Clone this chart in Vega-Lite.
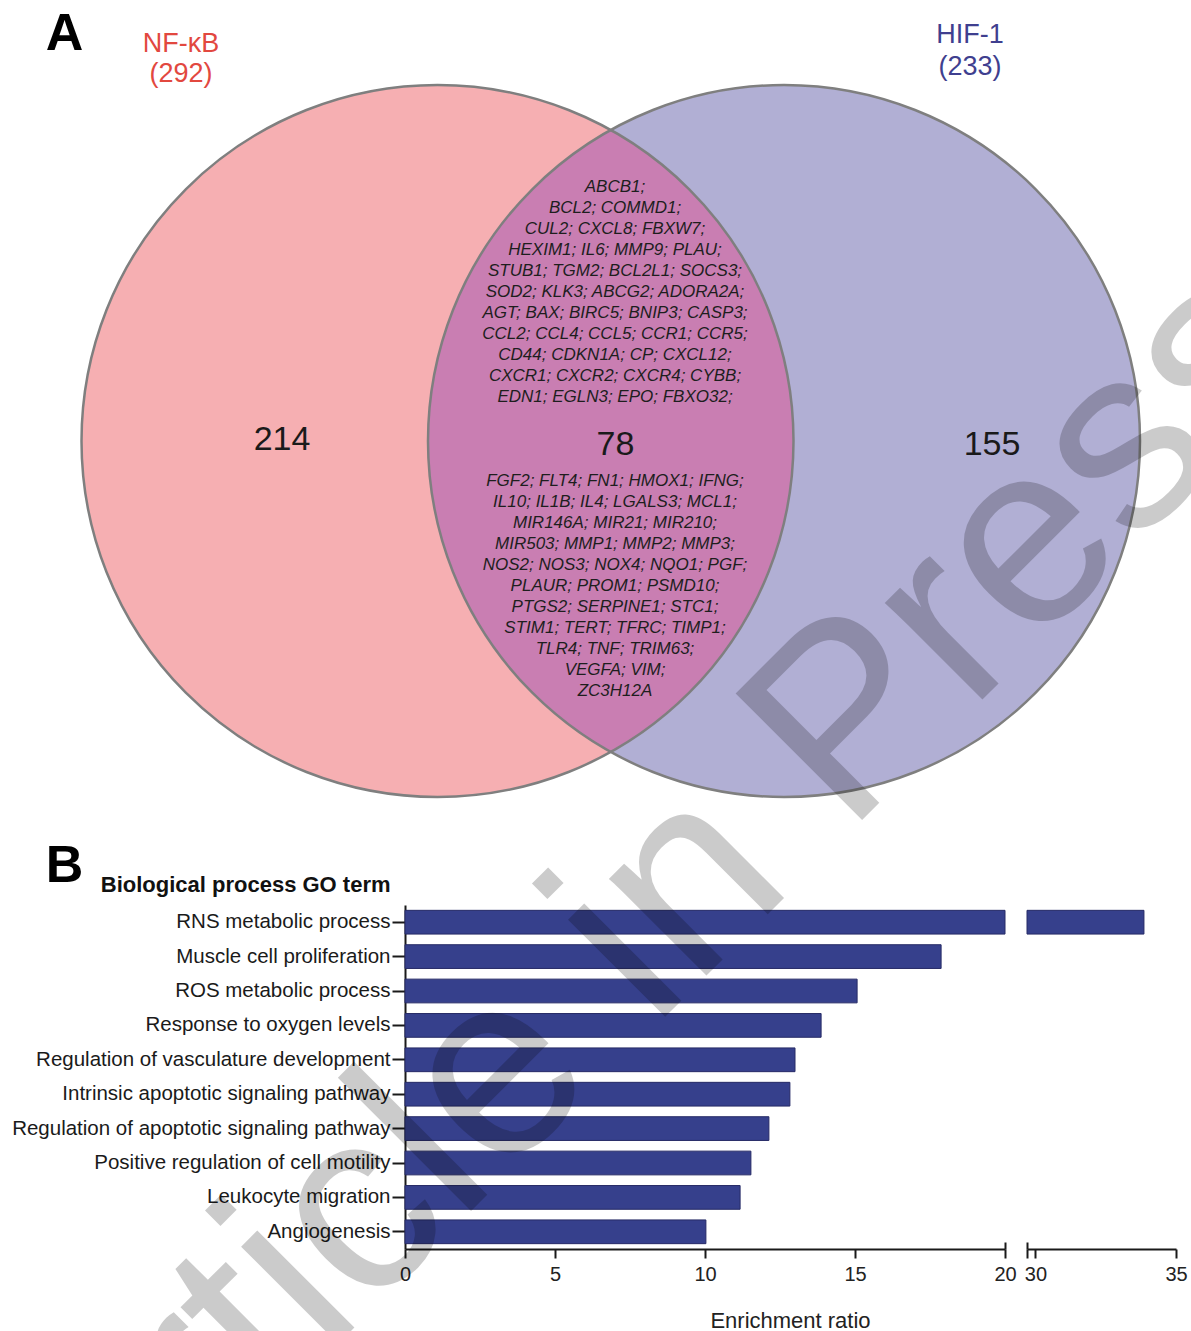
{
  "$schema": "https://vega.github.io/schema/vega-lite/v6.json",
  "width": 1191,
  "height": 1331,
  "autosize": {"type": "none"},
  "padding": 0,
  "background": "white",
  "config": {
    "view": {"stroke": null},
    "font": "Liberation Sans",
    "axis": {"grid": false}
  },
  "datasets": {
    "go": [
      {"term": "RNS metabolic process", "ratio": 33.86},
      {"term": "Muscle cell proliferation", "ratio": 17.87},
      {"term": "ROS metabolic process", "ratio": 15.07},
      {"term": "Response to oxygen levels", "ratio": 13.87},
      {"term": "Regulation of vasculature development", "ratio": 13.0},
      {"term": "Intrinsic apoptotic signaling pathway", "ratio": 12.83},
      {"term": "Regulation of apoptotic signaling pathway", "ratio": 12.13},
      {"term": "Positive regulation of cell motility", "ratio": 11.53},
      {"term": "Leukocyte migration", "ratio": 11.17},
      {"term": "Angiogenesis", "ratio": 10.03}
    ],
    "sets": [
      {"set": "NF-κB", "total": 292, "unique": 214},
      {"set": "HIF-1", "total": 233, "unique": 155}
    ],
    "shared": [
      {
        "count": 78,
        "genesTop": [
          "ABCB1;",
          "BCL2; COMMD1;",
          "CUL2; CXCL8; FBXW7;",
          "HEXIM1; IL6; MMP9; PLAU;",
          "STUB1; TGM2; BCL2L1; SOCS3;",
          "SOD2; KLK3; ABCG2; ADORA2A;",
          "AGT; BAX; BIRC5; BNIP3; CASP3;",
          "CCL2; CCL4; CCL5; CCR1; CCR5;",
          "CD44; CDKN1A; CP; CXCL12;",
          "CXCR1; CXCR2; CXCR4; CYBB;",
          "EDN1; EGLN3; EPO; FBXO32;"
        ],
        "genesBottom": [
          "FGF2; FLT4; FN1; HMOX1; IFNG;",
          "IL10; IL1B; IL4; LGALS3; MCL1;",
          "MIR146A; MIR21; MIR210;",
          "MIR503; MMP1; MMP2; MMP3;",
          "NOS2; NOS3; NOX4; NQO1; PGF;",
          "PLAUR; PROM1; PSMD10;",
          "PTGS2; SERPINE1; STC1;",
          "STIM1; TERT; TFRC; TIMP1;",
          "TLR4; TNF; TRIM63;",
          "VEGFA; VIM;",
          "ZC3H12A"
        ]
      }
    ],
    "panels": [{"panel": "A"}, {"panel": "B"}],
    "stamp": [{"stamp": "Article in Press"}]
  },
  "layer": [
    {
      "data": {"name": "go"},
      "layer": [
        {
          "mark": {"type": "bar", "fill": "#36408C", "stroke": "#262A66", "strokeWidth": 1},
          "encoding": {
            "y": {
              "field": "term", "type": "nominal", "sort": null,
              "scale": {"range": [905, 1249], "paddingInner": 0.31, "paddingOuter": 0.155},
              "axis": {
                "orient": "left", "offset": -405,
                "tickSize": 13, "tickWidth": 2, "tickColor": "#1a1a1a",
                "domainWidth": 2, "domainColor": "#1a1a1a",
                "labelFontSize": 20.5, "labelPadding": 2, "labelColor": "#1a1a1a", "labelLimit": 600,
                "title": "Biological process GO term", "titleAngle": 0,
                "titleFontSize": 22, "titleFontWeight": "bold", "titleColor": "#111111",
                "titleX": -15, "titleY": 884, "titleAlign": "right", "titleBaseline": "middle"
              }
            },
            "x": {
              "field": "ratio", "type": "quantitative",
              "scale": {"domain": [0, 20], "range": [405, 1005], "clamp": true, "nice": false},
              "axis": {
                "orient": "bottom", "offset": -82, "values": [0, 5, 10, 15, 20],
                "tickSize": 9, "tickWidth": 2, "tickColor": "#1a1a1a",
                "domainWidth": 2, "domainColor": "#1a1a1a",
                "labelFontSize": 20, "labelColor": "#222222", "labelPadding": 6,
                "labelFlush": false, "labelOverlap": false,
                "title": "Enrichment ratio", "titleFontSize": 22, "titleFontWeight": "normal",
                "titleColor": "#222222", "titleX": 790, "titleY": 71,
                "titleAlign": "center", "titleBaseline": "middle"
              }
            }
          }
        },
        {
          "transform": [{"filter": "datum.ratio > 29.7"}],
          "mark": {"type": "bar", "fill": "#36408C", "stroke": "#262A66", "strokeWidth": 1},
          "encoding": {
            "y": {"field": "term", "type": "nominal", "sort": null},
            "x": {
              "field": "ratio", "type": "quantitative",
              "scale": {"domain": [29.7, 35], "range": [1027, 1176], "clamp": true, "nice": false, "zero": false},
              "axis": {
                "orient": "bottom", "offset": -82, "values": [29.7, 30, 35],
                "labelExpr": "datum.value < 29.9 ? '' : datum.label",
                "tickSize": 9, "tickWidth": 2, "tickColor": "#1a1a1a",
                "domainWidth": 2, "domainColor": "#1a1a1a",
                "labelFontSize": 20, "labelColor": "#222222", "labelPadding": 6,
                "labelFlush": false, "labelOverlap": false, "title": null
              }
            }
          }
        },
        {
          "mark": {"type": "rule", "opacity": 0},
          "encoding": {
            "x": {
              "datum": 20, "type": "quantitative",
              "scale": {"domain": [0, 20], "range": [405, 1005], "clamp": true, "nice": false},
              "axis": {
                "orient": "bottom", "offset": -82, "values": [20],
                "tickSize": -7, "tickWidth": 2, "tickColor": "#1a1a1a",
                "domain": false, "labels": false, "title": null
              }
            }
          }
        },
        {
          "mark": {"type": "rule", "opacity": 0},
          "encoding": {
            "x": {
              "datum": 29.7, "type": "quantitative",
              "scale": {"domain": [29.7, 35], "range": [1027, 1176], "clamp": true, "nice": false, "zero": false},
              "axis": {
                "orient": "bottom", "offset": -82, "values": [29.7],
                "tickSize": -7, "tickWidth": 2, "tickColor": "#1a1a1a",
                "domain": false, "labels": false, "title": null
              }
            }
          }
        }
      ],
      "resolve": {"scale": {"x": "independent"}, "axis": {"x": "independent"}}
    },
    {
      "layer": [
        {
          "data": {"name": "sets"},
          "mark": {"type": "point", "shape": "circle", "filled": true, "size": 506944, "opacity": 1, "strokeWidth": 0},
          "encoding": {
            "x": {"field": "set", "type": "nominal", "scale": {"type": "point", "domain": ["NF-κB", "HIF-1"], "range": [437.5, 784], "padding": 0}, "axis": null},
            "y": {"datum": 441, "type": "quantitative", "scale": {"domain": [1331, 0], "nice": false, "zero": false}, "axis": null},
            "color": {"field": "set", "type": "nominal", "scale": {"domain": ["NF-κB", "HIF-1"], "range": ["#F6AFB2", "#B1AFD4"]}, "legend": null}
          }
        },
        {
          "data": {"name": "shared"},
          "mark": {"type": "point", "shape": "M0,-0.8733A1,1,0,0,1,0,0.8733A1,1,0,0,1,0,-0.8733Z", "filled": true, "size": 506944, "opacity": 1, "strokeWidth": 0, "fill": "#C97EB2"},
          "encoding": {
            "x": {"datum": 610.75, "type": "quantitative", "scale": {"domain": [0, 1191], "nice": false, "zero": false}, "axis": null},
            "y": {"datum": 441, "type": "quantitative", "scale": {"domain": [1331, 0], "nice": false, "zero": false}, "axis": null}
          }
        },
        {
          "data": {"name": "sets"},
          "mark": {"type": "point", "shape": "circle", "filled": false, "size": 506944, "opacity": 1, "stroke": "#7f7f7f", "strokeWidth": 2.5},
          "encoding": {
            "x": {"field": "set", "type": "nominal", "scale": {"type": "point", "domain": ["NF-κB", "HIF-1"], "range": [437.5, 784], "padding": 0}, "axis": null},
            "y": {"datum": 441, "type": "quantitative", "scale": {"domain": [1331, 0], "nice": false, "zero": false}, "axis": null}
          }
        },
        {
          "data": {"name": "sets"},
          "mark": {"type": "text", "fontSize": 27, "align": "center", "baseline": "middle"},
          "encoding": {
            "text": {"field": "set", "type": "nominal"},
            "x": {"field": "set", "type": "nominal", "scale": {"type": "point", "domain": ["NF-κB", "HIF-1"], "range": [181, 970], "padding": 0}, "axis": null},
            "y": {"field": "set", "type": "nominal", "scale": {"type": "point", "domain": ["NF-κB", "HIF-1"], "range": [44, 35], "padding": 0}, "axis": null},
            "color": {"field": "set", "type": "nominal", "scale": {"domain": ["NF-κB", "HIF-1"], "range": ["#E2483F", "#3F3F8F"]}, "legend": null}
          }
        },
        {
          "data": {"name": "sets"},
          "transform": [{"calculate": "'(' + datum.total + ')'", "as": "totalLabel"}],
          "mark": {"type": "text", "fontSize": 27, "align": "center", "baseline": "middle"},
          "encoding": {
            "text": {"field": "totalLabel", "type": "nominal"},
            "x": {"field": "set", "type": "nominal", "scale": {"type": "point", "domain": ["NF-κB", "HIF-1"], "range": [181, 970], "padding": 0}, "axis": null},
            "y": {"field": "set", "type": "nominal", "scale": {"type": "point", "domain": ["NF-κB", "HIF-1"], "range": [74, 67], "padding": 0}, "axis": null},
            "color": {"field": "set", "type": "nominal", "scale": {"domain": ["NF-κB", "HIF-1"], "range": ["#E2483F", "#3F3F8F"]}, "legend": null}
          }
        },
        {
          "data": {"name": "sets"},
          "mark": {"type": "text", "fontSize": 34, "align": "center", "baseline": "middle", "color": "#1a1a1a"},
          "encoding": {
            "text": {"field": "unique", "type": "quantitative"},
            "x": {"field": "set", "type": "nominal", "scale": {"type": "point", "domain": ["NF-κB", "HIF-1"], "range": [282, 992], "padding": 0}, "axis": null},
            "y": {"field": "set", "type": "nominal", "scale": {"type": "point", "domain": ["NF-κB", "HIF-1"], "range": [440, 445], "padding": 0}, "axis": null}
          }
        },
        {
          "data": {"name": "shared"},
          "mark": {"type": "text", "fontSize": 34, "align": "center", "baseline": "middle", "color": "#1a1a1a"},
          "encoding": {
            "text": {"field": "count", "type": "quantitative"},
            "x": {"datum": 615.5, "type": "quantitative", "scale": {"domain": [0, 1191], "nice": false, "zero": false}, "axis": null},
            "y": {"datum": 445, "type": "quantitative", "scale": {"domain": [1331, 0], "nice": false, "zero": false}, "axis": null}
          }
        },
        {
          "data": {"name": "shared"},
          "mark": {"type": "text", "fontSize": 17, "fontStyle": "italic", "lineHeight": 21, "align": "center", "baseline": "middle", "color": "#1e1e1e"},
          "encoding": {
            "text": {"field": "genesTop", "type": "nominal"},
            "x": {"datum": 615, "type": "quantitative", "scale": {"domain": [0, 1191], "nice": false, "zero": false}, "axis": null},
            "y": {"datum": 187, "type": "quantitative", "scale": {"domain": [1331, 0], "nice": false, "zero": false}, "axis": null}
          }
        },
        {
          "data": {"name": "shared"},
          "mark": {"type": "text", "fontSize": 17, "fontStyle": "italic", "lineHeight": 21, "align": "center", "baseline": "middle", "color": "#1e1e1e"},
          "encoding": {
            "text": {"field": "genesBottom", "type": "nominal"},
            "x": {"datum": 615, "type": "quantitative", "scale": {"domain": [0, 1191], "nice": false, "zero": false}, "axis": null},
            "y": {"datum": 481, "type": "quantitative", "scale": {"domain": [1331, 0], "nice": false, "zero": false}, "axis": null}
          }
        },
        {
          "data": {"name": "panels"},
          "mark": {"type": "text", "fontSize": 52, "fontWeight": "bold", "align": "center", "baseline": "middle", "color": "#000000"},
          "encoding": {
            "text": {"field": "panel", "type": "nominal"},
            "x": {"datum": 64.5, "type": "quantitative", "scale": {"domain": [0, 1191], "nice": false, "zero": false}, "axis": null},
            "y": {"field": "panel", "type": "nominal", "scale": {"type": "point", "domain": ["A", "B"], "range": [34, 866], "padding": 0}, "axis": null}
          }
        },
        {
          "data": {"name": "stamp"},
          "mark": {"type": "text", "fontSize": 260, "angle": -45, "align": "center", "baseline": "alphabetic", "color": "#000000", "opacity": 0.2},
          "encoding": {
            "text": {"field": "stamp", "type": "nominal"},
            "x": {"datum": 704, "type": "quantitative", "scale": {"domain": [0, 1191], "nice": false, "zero": false}, "axis": null},
            "y": {"datum": 978, "type": "quantitative", "scale": {"domain": [1331, 0], "nice": false, "zero": false}, "axis": null}
          }
        }
      ],
      "resolve": {"scale": {"x": "independent", "y": "independent", "color": "independent"}}
    }
  ],
  "resolve": {
    "scale": {"x": "independent", "y": "independent", "color": "independent"},
    "axis": {"x": "independent", "y": "independent"}
  }
}
